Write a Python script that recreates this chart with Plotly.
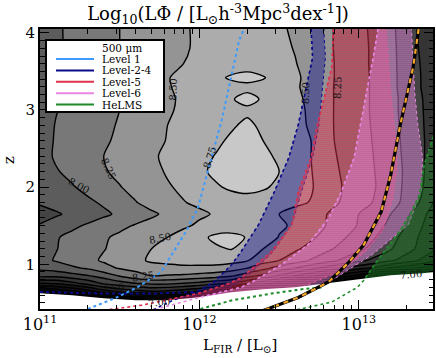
import numpy as np
import plotly.graph_objects as go

# ---------------- data ----------------
# grid of log10(L Phi) values (rows: redshift, cols: log10 L_FIR)
logL_grid = [11.0, 11.1, 11.2, 11.3, 11.4, 11.5, 11.6, 11.7, 11.8, 11.9, 12.0, 12.1, 12.2,
             12.3, 12.4, 12.5, 12.6, 12.7, 12.8, 12.9, 13.0, 13.1, 13.2, 13.3, 13.4, 13.5]
z_grid = [0.4, 0.55, 0.65, 0.75, 0.85, 0.95, 1.05, 1.2, 1.35, 1.5, 1.65, 1.8, 2.0, 2.2,
          2.4, 2.6, 2.8, 3.0, 3.14, 3.3, 3.42, 3.6, 3.8, 4.05]
lphi = [
 [5.2,5.2,5.2,5.2,5.3,5.3,5.3,5.3,5.3,5.3,5.3,5.2,5.2,5.1,5.1,5.1,5.1,5.1,5.1,5.1,5.1,5.1,5.1,5.1,5.1,5.1],
 [5.65,5.7,5.75,5.85,5.95,6.05,6.2,6.25,6.2,6.1,5.9,5.75,5.6,5.5,5.4,5.4,5.4,5.4,5.4,5.4,5.4,5.4,5.4,5.4,5.4,5.4],
 [6.2,6.3,6.45,6.65,6.9,7.08,7.17,7.25,7.21,7.13,7.0,6.85,6.3,5.9,5.7,5.6,5.6,5.5,5.5,5.5,5.5,5.5,5.5,5.5,5.5,5.5],
 [6.97,7.02,7.16,7.33,7.53,7.64,7.73,7.79,7.79,7.73,7.66,7.56,7.47,7.27,7.06,6.86,6.5,6.25,5.97,5.8,5.7,5.6,5.6,5.6,5.6,5.6],
 [7.58,7.57,7.65,7.73,7.85,8.02,8.15,8.26,8.23,8.21,8.17,8.12,8.03,7.84,7.68,7.46,7.25,7.07,6.83,6.6,6.4,6.2,5.95,5.9,5.85,5.8],
 [7.81,7.87,7.96,8.03,8.17,8.27,8.33,8.42,8.43,8.44,8.43,8.42,8.38,8.25,8.08,7.90,7.75,7.58,7.41,7.25,7.08,6.95,6.7,6.6,6.45,6.25],
 [7.92,8.02,8.10,8.19,8.28,8.36,8.45,8.53,8.56,8.60,8.62,8.62,8.58,8.52,8.36,8.25,8.12,7.98,7.85,7.71,7.57,7.43,7.29,7.12,6.95,6.75],
 [7.90,7.99,8.08,8.16,8.24,8.32,8.41,8.50,8.54,8.58,8.64,8.72,8.76,8.62,8.50,8.39,8.29,8.17,8.05,7.92,7.80,7.67,7.52,7.35,7.15,6.95],
 [7.90,7.98,8.06,8.14,8.22,8.30,8.36,8.43,8.50,8.60,8.70,8.79,8.80,8.74,8.62,8.49,8.39,8.29,8.16,8.03,7.89,7.76,7.59,7.40,7.19,6.95],
 [7.77,7.86,7.95,8.03,8.11,8.19,8.27,8.33,8.40,8.46,8.54,8.63,8.66,8.62,8.57,8.53,8.47,8.36,8.24,8.11,7.98,7.84,7.69,7.49,7.25,7.00],
 [7.65,7.72,7.80,7.88,7.96,8.04,8.13,8.21,8.30,8.38,8.46,8.52,8.55,8.58,8.54,8.50,8.43,8.34,8.25,8.13,8.00,7.88,7.75,7.55,7.30,7.10],
 [7.78,7.84,7.90,7.96,8.03,8.14,8.24,8.33,8.41,8.49,8.54,8.59,8.63,8.68,8.63,8.59,8.54,8.49,8.35,8.22,8.10,7.98,7.84,7.68,7.45,7.15],
 [7.85,7.91,7.98,8.06,8.15,8.24,8.32,8.40,8.48,8.54,8.62,8.72,8.79,8.80,8.78,8.70,8.61,8.52,8.38,8.24,8.12,8.01,7.86,7.70,7.51,7.20],
 [7.90,7.98,8.06,8.15,8.23,8.30,8.37,8.44,8.52,8.61,8.70,8.80,8.88,8.88,8.84,8.75,8.62,8.51,8.36,8.22,8.11,8.00,7.86,7.71,7.53,7.25],
 [7.90,8.03,8.10,8.17,8.25,8.32,8.39,8.47,8.54,8.61,8.68,8.76,8.85,8.88,8.82,8.70,8.60,8.50,8.33,8.20,8.10,7.99,7.85,7.70,7.53,7.28],
 [7.90,8.02,8.09,8.16,8.22,8.29,8.37,8.44,8.51,8.57,8.64,8.70,8.79,8.85,8.75,8.66,8.58,8.50,8.31,8.18,8.09,7.98,7.84,7.69,7.53,7.28],
 [7.90,8.01,8.07,8.14,8.20,8.27,8.35,8.42,8.50,8.55,8.59,8.64,8.72,8.80,8.70,8.62,8.55,8.48,8.30,8.18,8.08,7.97,7.83,7.68,7.52,7.26],
 [7.90,7.99,8.06,8.12,8.19,8.25,8.33,8.40,8.48,8.53,8.58,8.62,8.66,8.70,8.66,8.60,8.55,8.47,8.30,8.18,8.08,7.96,7.82,7.67,7.51,7.25],
 [7.90,7.98,8.05,8.11,8.18,8.24,8.31,8.39,8.47,8.53,8.57,8.63,8.73,8.83,8.72,8.61,8.55,8.45,8.30,8.18,8.08,7.96,7.82,7.67,7.50,7.23],
 [7.90,7.98,8.05,8.11,8.18,8.25,8.33,8.41,8.49,8.53,8.58,8.62,8.66,8.68,8.66,8.60,8.53,8.43,8.30,8.18,8.08,7.96,7.81,7.66,7.48,7.22],
 [7.90,7.98,8.05,8.11,8.18,8.25,8.33,8.41,8.49,8.55,8.60,8.68,8.79,8.84,8.77,8.63,8.54,8.43,8.30,8.19,8.08,7.96,7.81,7.66,7.48,7.22],
 [7.90,7.98,8.05,8.11,8.18,8.25,8.31,8.38,8.44,8.50,8.53,8.56,8.59,8.62,8.58,8.55,8.51,8.42,8.30,8.19,8.08,7.95,7.81,7.65,7.47,7.20],
 [7.90,7.97,8.04,8.11,8.18,8.25,8.31,8.37,8.42,8.48,8.53,8.57,8.62,8.66,8.61,8.55,8.49,8.39,8.29,8.19,8.08,7.95,7.81,7.64,7.45,7.22],
 [7.90,7.97,8.04,8.11,8.18,8.25,8.31,8.36,8.42,8.48,8.53,8.57,8.62,8.63,8.58,8.53,8.47,8.38,8.29,8.19,8.07,7.94,7.80,7.63,7.43,7.20],
]
contour_start, contour_end, contour_step = 6.0, 8.75, 0.25
band_grays = [0, 0, 8, 16, 25, 38, 52, 68, 92, 120, 148, 172, 200]

# survey limit curves (log10 L, z)
lvl1_logL = [11.30, 11.47, 11.61, 11.76, 11.92, 11.99, 12.14, 12.25, 12.28]
lvl1_z    = [0.42, 0.56, 0.70, 0.90, 1.44, 1.73, 2.87, 3.91, 4.05]

l24_left_logL  = [12.70, 12.71, 12.62, 12.56, 12.47, 12.37, 12.26, 12.20, 12.09, 11.98, 11.83, 11.70]
l24_left_z     = [4.05, 3.68, 2.81, 2.38, 1.94, 1.51, 1.16, 0.99, 0.77, 0.64, 0.53, 0.40]
l24_right_logL = [12.78, 12.79, 12.75, 12.71, 12.64, 12.58, 12.46, 12.33, 12.17, 12.01]
l24_right_z    = [4.05, 3.68, 2.81, 2.38, 1.94, 1.51, 1.16, 0.90, 0.66, 0.40]

l5_left_logL  = [12.84, 12.83, 12.74, 12.70, 12.62, 12.58, 12.45, 12.26, 12.17, 11.99, 11.64, 11.39]
l5_left_z     = [4.05, 3.55, 2.81, 2.38, 1.94, 1.51, 1.16, 0.82, 0.74, 0.62, 0.47, 0.40]
l5_right_logL = [13.17, 13.20, 13.22, 13.24, 13.21, 13.15, 13.04, 12.89, 12.70, 12.51, 12.33]
l5_right_z    = [4.05, 3.23, 2.81, 2.29, 1.83, 1.44, 1.16, 0.92, 0.75, 0.60, 0.40]

l6_left_logL  = [13.12, 13.09, 13.03, 12.97, 12.89, 12.81, 12.68, 12.51, 12.33, 12.26, 11.98, 11.70]
l6_left_z     = [4.05, 3.68, 3.03, 2.38, 1.94, 1.60, 1.25, 0.99, 0.77, 0.70, 0.56, 0.40]
l6_right_logL = [13.33, 13.35, 13.37, 13.40, 13.39, 13.31, 13.18, 13.08, 12.95, 12.83, 12.64, 12.45]
l6_right_z    = [4.05, 3.23, 2.81, 2.38, 1.94, 1.51, 1.29, 1.12, 0.95, 0.79, 0.60, 0.40]

helms_left_logL  = [13.51, 13.47, 13.41, 13.38, 13.33, 13.26, 13.19, 13.11, 13.03, 12.99, 12.83, 12.59]
helms_left_z     = [2.87, 2.68, 2.29, 1.90, 1.68, 1.44, 1.25, 1.03, 0.79, 0.70, 0.51, 0.40]
helms_right_logL = [13.60, 13.60]
helms_right_z    = [2.87, 0.40]

helms_low_logL = [11.97, 12.20, 12.45, 12.66, 12.78]
helms_low_z    = [0.40, 0.53, 0.62, 0.68, 0.70]

l24_low_logL = [11.0, 11.39, 11.70, 11.95, 11.98]
l24_low_z    = [0.64, 0.62, 0.62, 0.64, 0.64]

knee_logL = [13.375, 13.34, 13.26, 13.20, 13.14, 13.03, 12.93, 12.81, 12.62, 12.40]
knee_z    = [4.05, 3.55, 2.81, 2.16, 1.68, 1.25, 1.01, 0.77, 0.57, 0.40]

# edge of the region with no counts (white)
empty_logL = [10.95, 11.0, 11.2, 11.4, 11.6, 11.8, 12.0, 12.2, 12.4, 12.6, 12.8, 13.0, 13.2, 13.4, 13.55]
empty_z    = [0.623, 0.623, 0.597, 0.558, 0.532, 0.532, 0.571, 0.636, 0.675, 0.701, 0.753, 0.805, 0.857, 0.883, 0.915]

# contour labels
clab_text  = ["8.00", "8.25", "8.50", "8.50", "8.75", "8.50", "8.25", "8.25", "7.50", "7.00", "7.00"]
clab_logL  = [11.244, 11.431, 11.838, 11.75, 12.063, 12.663, 12.869, 11.644, 11.456, 11.744, 13.33]
clab_z     = [2.026, 2.247, 3.26, 1.338, 2.39, 3.22, 3.286, 0.844, 0.688, 0.506, 0.87]
clab_angle = [28, 65, -88, -12, -72, -88, -88, -8, -8, -5, -5]

legend_title = "500 \u03bcm"
legend_labels = ["Level 1", "Level-2-4", "Level-5", "Level-6", "HeLMS"]
legend_colors = ["#3d9bff", "#0a0a8c", "#e0304e", "#e686e0", "#1f8a2a"]

x_tick_vals = [1e11, 1e12, 1e13]
x_tick_text = ["10<sup>11</sup>", "10<sup>12</sup>", "10<sup>13</sup>"]
y_tick_vals = [1, 2, 3, 4]

# ---------------- figure ----------------
FONT = "DejaVu Serif"
L = lambda a: 10 ** np.array(a, dtype=float)

nc = len(band_grays) - 1
cscale = []
for i, g in enumerate(band_grays):
    c = f"rgb({g},{g},{g})"
    cscale.append([max(0.0, (i - 0.5) / nc), c])
    cscale.append([min(1.0, (i + 0.5) / nc), c])

fig = go.Figure()
fig.add_trace(go.Contour(
    x=L(logL_grid), y=z_grid, z=lphi,
    autocontour=False,
    contours=dict(start=contour_start, end=contour_end, size=contour_step,
                  coloring="fill", showlines=True),
    colorscale=cscale, showscale=False,
    line=dict(color="black", width=1.4, smoothing=0.9),
    hoverinfo="skip"))


def band(lx, lz, rx, rz, color, sol=0.55):
    xs = list(lx) + list(rx)[::-1]
    ys = list(lz) + list(rz)[::-1]
    return go.Scatter(
        x=L(xs), y=ys, mode="lines", fill="toself",
        fillcolor="rgba(0,0,0,0)",
        fillpattern=dict(shape=".", fgcolor=color, bgcolor="rgba(0,0,0,0)",
                         size=2, solidity=sol, fgopacity=0.92),
        line=dict(color=color, width=1, dash="dot"),
        showlegend=False, hoverinfo="skip")


fig.add_trace(band(l24_left_logL, l24_left_z, l24_right_logL, l24_right_z, legend_colors[1], 0.5))
fig.add_trace(band(l5_left_logL, l5_left_z, l5_right_logL, l5_right_z, legend_colors[2], 0.6))
fig.add_trace(band(l6_left_logL, l6_left_z, l6_right_logL, l6_right_z, legend_colors[3], 0.6))
fig.add_trace(band(helms_left_logL, helms_left_z, helms_right_logL, helms_right_z, legend_colors[4], 0.55))

# white empty region
fig.add_trace(go.Scatter(
    x=L(empty_logL + [13.6, 10.9]), y=empty_z + [0.3, 0.3],
    mode="lines", fill="toself", fillcolor="white", line=dict(width=0),
    showlegend=False, hoverinfo="skip"))


def dotted(xs, zs, color, width=2):
    return go.Scatter(x=L(xs), y=zs, mode="lines",
                      line=dict(color=color, width=width, dash="dot"),
                      showlegend=False, hoverinfo="skip")


fig.add_trace(dotted(l24_low_logL, l24_low_z, legend_colors[1]))
fig.add_trace(dotted(helms_low_logL, helms_low_z, legend_colors[4]))
fig.add_trace(dotted(lvl1_logL, lvl1_z, legend_colors[0]))
fig.add_trace(dotted(l24_left_logL, l24_left_z, legend_colors[1], 1.6))
fig.add_trace(dotted(l5_left_logL, l5_left_z, legend_colors[2], 1.6))
fig.add_trace(dotted(l6_left_logL, l6_left_z, legend_colors[3], 1.6))
fig.add_trace(dotted(helms_left_logL, helms_left_z, legend_colors[4], 1.6))

fig.add_trace(go.Scatter(x=L(knee_logL), y=knee_z, mode="lines",
                         line=dict(color="black", width=3.2),
                         showlegend=False, hoverinfo="skip"))
fig.add_trace(go.Scatter(x=L(knee_logL), y=knee_z, mode="lines",
                         line=dict(color="#f2a62a", width=2.2, dash="5px,5px"),
                         showlegend=False, hoverinfo="skip"))

# contour labels
for t, xl, zl, a in zip(clab_text, clab_logL, clab_z, clab_angle):
    fig.add_annotation(x=xl, y=zl, xref="x", yref="y", text=t, showarrow=False,
                       textangle=a, font=dict(family=FONT, size=10, color="#111"))

# legend box (drawn manually to match the compact spacing)
def px2paper(px, py):
    return (px - 40) / 393.0, (309 - py) / 280.0

x0, y1 = px2paper(46, 40)
x1, y0 = px2paper(164, 112)
fig.add_shape(type="rect", xref="paper", yref="paper", x0=x0, x1=x1, y0=y0, y1=y1,
              fillcolor="white", line=dict(color="black", width=2), layer="above")
tx, ty = px2paper(100, 48.5)
fig.add_annotation(xref="paper", yref="paper", x=tx, y=ty, text=legend_title,
                   showarrow=False, xanchor="left", yanchor="middle",
                   font=dict(family=FONT, size=10.5, color="black"))
for k, (lab, col) in enumerate(zip(legend_labels, legend_colors)):
    py = 59 + k * 11.4
    lx0, ly = px2paper(56, py)
    lx1, _ = px2paper(94, py)
    fig.add_shape(type="line", xref="paper", yref="paper", x0=lx0, x1=lx1, y0=ly, y1=ly,
                  line=dict(color=col, width=2), layer="above")
    ttx, _ = px2paper(100, py)
    fig.add_annotation(xref="paper", yref="paper", x=ttx, y=ly, text=lab,
                       showarrow=False, xanchor="left", yanchor="middle",
                       font=dict(family=FONT, size=10.5, color="black"))

# axis titles
fig.add_annotation(xref="paper", yref="paper", x=0.51, y=(309 - 345) / 280.0,
                   text="L<sub>FIR</sub> / [L<sub>\u2299</sub>]", showarrow=False,
                   yanchor="middle", font=dict(family=FONT, size=15, color="black"))
fig.add_annotation(xref="paper", yref="paper", x=(9 - 40) / 393.0, y=(309 - 160) / 280.0,
                   text="z", showarrow=False, textangle=-90,
                   xanchor="center", yanchor="middle",
                   font=dict(family=FONT, size=15, color="black"))

minor_x = [k * 10 ** e for e in (11, 12, 13) for k in range(2, 10)]

fig.update_layout(
    width=436, height=358,
    margin=dict(l=40, r=3, t=29, b=49, autoexpand=False),
    paper_bgcolor="white", plot_bgcolor="white",
    showlegend=False,
    title=dict(text="Log<sub>10</sub>(L\u03a6 / [L<sub>\u2299</sub>h<sup>-3</sup>Mpc<sup>3</sup>dex<sup>-1</sup>])",
               x=0.5, xanchor="center", y=1 - 14 / 358.0, yanchor="middle",
               font=dict(family=FONT, size=18, color="black")),
    xaxis=dict(type="log", range=[11.0, 13.465], tickmode="array",
               tickvals=x_tick_vals, ticktext=x_tick_text, automargin=False,
               ticks="inside", ticklen=9, tickwidth=1.2, tickcolor="black",
               minor=dict(tickmode="array", tickvals=minor_x, ticks="inside",
                          ticklen=4.5, tickwidth=1, tickcolor="black"),
               showline=True, linewidth=2, linecolor="black", mirror="allticks",
               showgrid=False, zeroline=False,
               tickfont=dict(family=FONT, size=16, color="black")),
    yaxis=dict(range=[0.42, 4.05], tickmode="array", tickvals=y_tick_vals,
               automargin=False,
               ticks="inside", ticklen=9, tickwidth=1.2, tickcolor="black",
               minor=dict(dtick=0.1, ticks="inside", ticklen=4.5, tickwidth=1,
                          tickcolor="black"),
               showline=True, linewidth=2, linecolor="black", mirror="allticks",
               showgrid=False, zeroline=False,
               tickfont=dict(family=FONT, size=15, color="black")),
)

fig.write_html("out.html", config={"displayModeBar": False},
               post_script="document.body.style.margin='0';document.body.style.overflow='hidden';")
